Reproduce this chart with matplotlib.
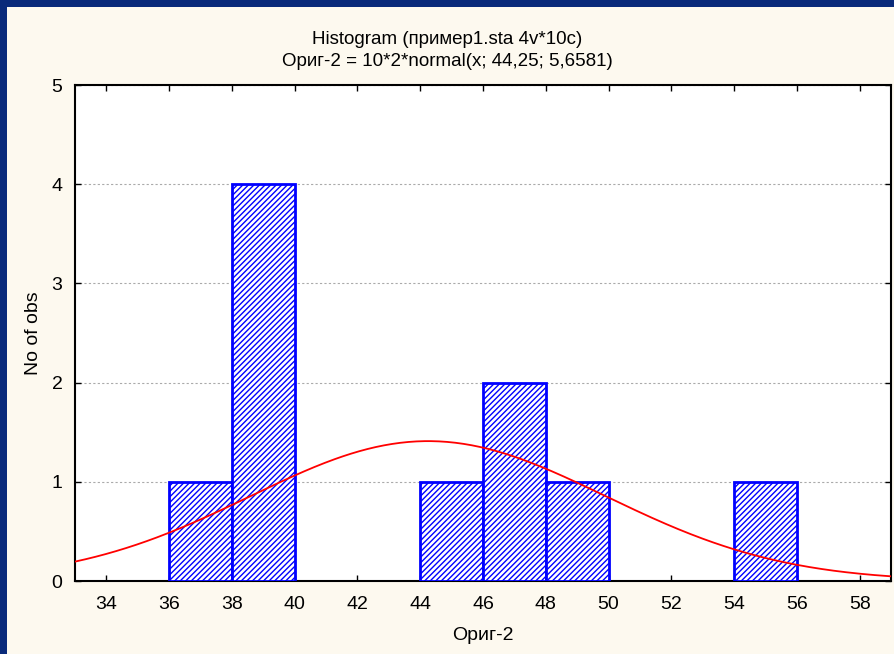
import numpy as np
import matplotlib
matplotlib.use("Agg")
import matplotlib.pyplot as plt
from matplotlib.patches import Rectangle

# Data
bin_left = [36, 38, 44, 46, 48, 54]
bin_counts = [1, 4, 1, 2, 1, 1]
bin_width = 2
x_ticks = [34, 36, 38, 40, 42, 44, 46, 48, 50, 52, 54, 56, 58]
y_ticks = [0, 1, 2, 3, 4, 5]
# fitted normal from title: 10*2*normal(x; 44,25; 5,6581)
fit_n = 10
fit_mean = 44.25
fit_sd = 5.6581

plt.rcParams['font.family'] = ['Liberation Sans', 'DejaVu Sans']
plt.rcParams['hatch.linewidth'] = 1.0

fig = plt.figure(figsize=(8.94, 6.54), dpi=100)
fig.patch.set_facecolor('#0A2A7A')
fig.add_artist(Rectangle((7/894, 0), 1, 1 - 7/654, transform=fig.transFigure,
                         facecolor='#FDF9EF', edgecolor='none', zorder=0))

ax = fig.add_axes([75/894, 1 - 581/654, (891-75)/894, (581-85)/654])
ax.set_facecolor('white')
ax.set_xlim(33, 59)
ax.set_ylim(0, 5)

ax.bar(bin_left, bin_counts, width=bin_width, align='edge', facecolor='white',
       edgecolor='#0000FF', hatch='//////', linewidth=2, zorder=3)

xs = np.linspace(33, 59, 400)
pdf = fit_n * bin_width * np.exp(-0.5 * ((xs - fit_mean) / fit_sd) ** 2) / (fit_sd * np.sqrt(2 * np.pi))
ax.plot(xs, pdf, color='#FF0000', linewidth=1.3, zorder=4)

ax.set_xticks(x_ticks)
ax.set_yticks(y_ticks)
ax.yaxis.grid(True, color='#AAAAAA', linestyle=(0, (2, 2)), linewidth=0.8)
ax.set_axisbelow(True)
ax.tick_params(direction='in', top=True, right=True, length=4, width=1,
               labelsize=14, colors='black')
ax.tick_params(axis='x', pad=11)
ax.tick_params(axis='y', pad=9)
for s in ax.spines.values():
    s.set_linewidth(1.5)
    s.set_color('black')

ax.set_xlabel('Ориг-2', fontsize=14, labelpad=10)
ax.set_ylabel('No of obs', fontsize=14, labelpad=7)

fig.text(0.5, 1 - 40/654, 'Histogram (пример1.sta 4v*10c)', ha='center', va='center', fontsize=13.5)
fig.text(0.5, 1 - 62/654, 'Ориг-2 = 10*2*normal(x; 44,25; 5,6581)', ha='center', va='center', fontsize=13.5)

fig.savefig('out.png', dpi=100, facecolor=fig.get_facecolor())
